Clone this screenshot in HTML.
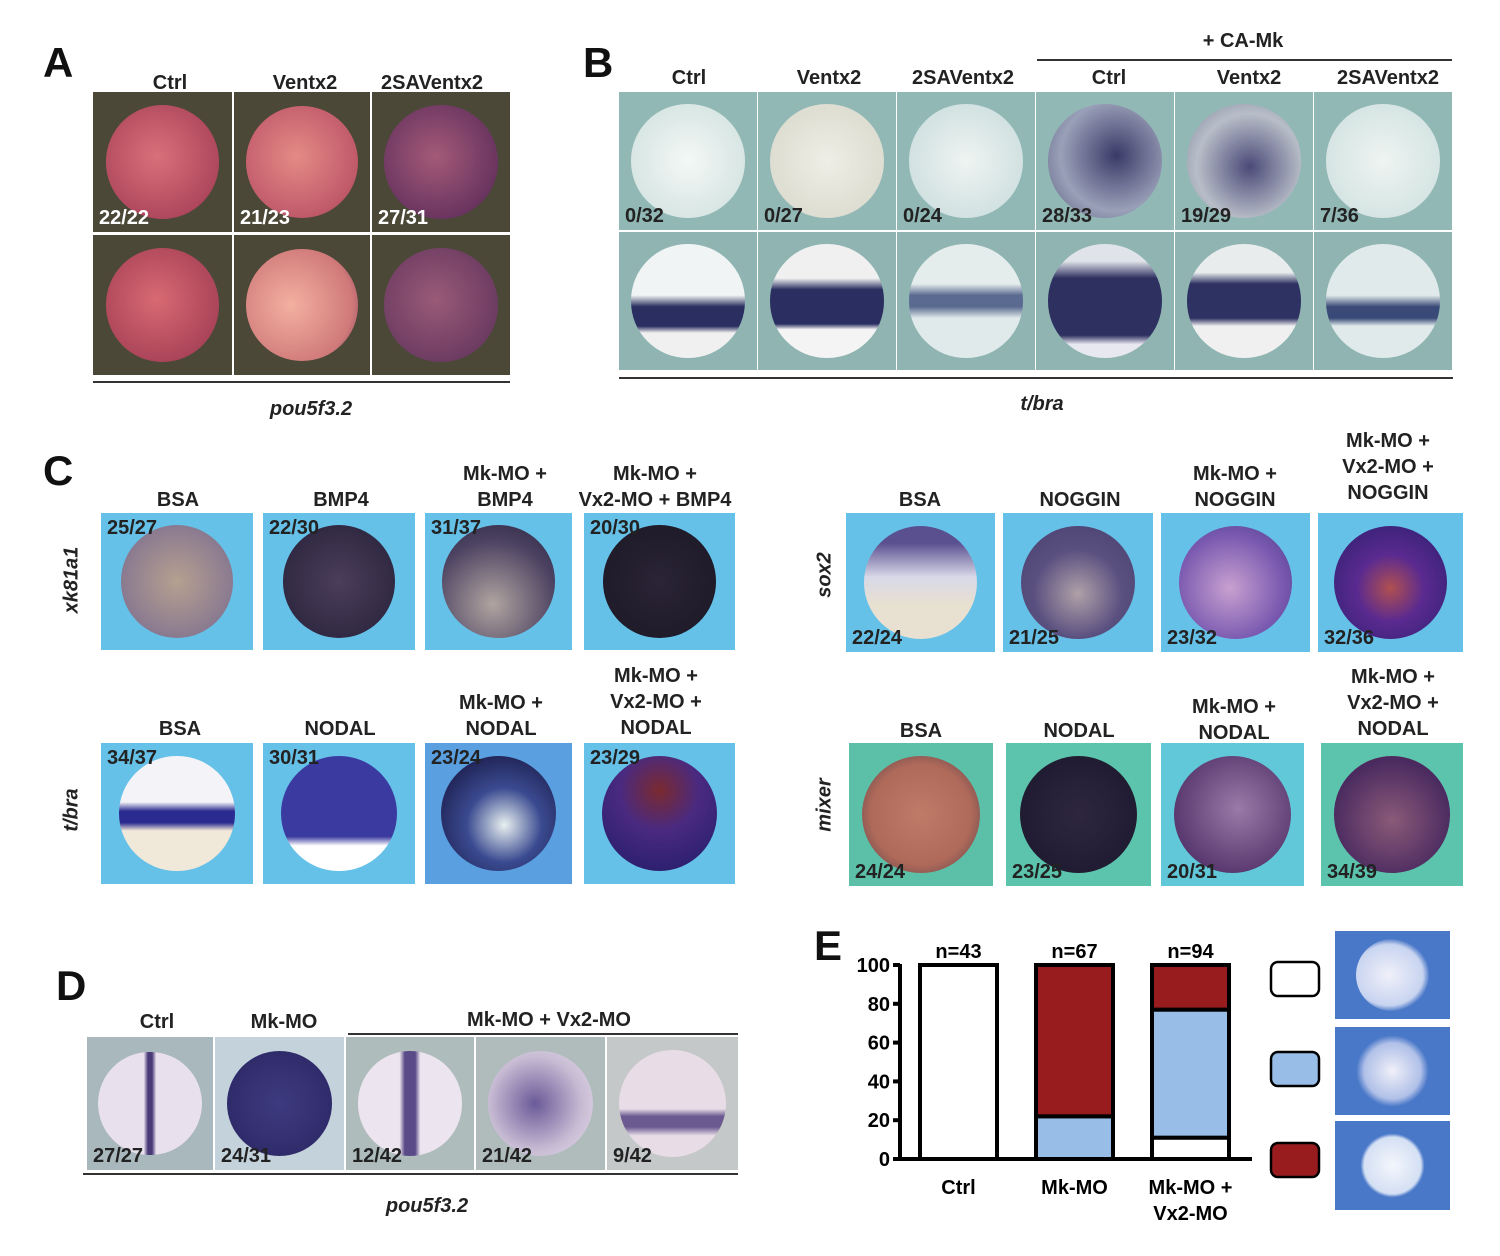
<!DOCTYPE html>
<html><head><meta charset="utf-8"><style>
body{margin:0;width:1500px;height:1256px;background:#fff;position:relative;overflow:hidden;font-family:"Liberation Sans",Arial,sans-serif}
.t{position:absolute;font-weight:bold;font-size:20px;color:#222;text-align:center;line-height:26px;white-space:nowrap;transform:translateX(-50%)}
.L{position:absolute;font-weight:bold;font-size:42px;color:#111;line-height:42px}
.it{position:absolute;font-style:italic;font-weight:bold;font-size:20px;color:#222;transform:translateX(-50%)}
.vl{position:absolute;font-style:italic;font-weight:bold;font-size:20px;color:#222;transform:translate(-50%,-50%) rotate(-90deg)}
.hl{position:absolute;height:1.5px;background:#333}
.cell{position:absolute;overflow:hidden}
.emb{position:absolute;border-radius:50%}
.cnt{position:absolute;font-weight:bold;font-size:20px;line-height:20px}
</style></head><body>
<div class="L" style="left:43px;top:42px">A</div>
<div class="t" style="left:170px;top:70px">Ctrl</div>
<div class="t" style="left:305px;top:70px">Ventx2</div>
<div class="t" style="left:432px;top:70px">2SAVentx2</div>
<div class="hl" style="left:93px;top:381px;width:417px"></div>
<div class="it" style="left:311px;top:398px">pou5f3.2</div>

<div class="L" style="left:583px;top:42px">B</div>
<div class="t" style="left:1243px;top:28px">+ CA-Mk</div>
<div class="hl" style="left:1037px;top:59px;width:415px"></div>
<div class="t" style="left:689px;top:65px">Ctrl</div>
<div class="t" style="left:829px;top:65px">Ventx2</div>
<div class="t" style="left:963px;top:65px">2SAVentx2</div>
<div class="t" style="left:1109px;top:65px">Ctrl</div>
<div class="t" style="left:1249px;top:65px">Ventx2</div>
<div class="t" style="left:1388px;top:65px">2SAVentx2</div>
<div class="hl" style="left:619px;top:377px;width:834px"></div>
<div class="it" style="left:1042px;top:393px">t/bra</div>

<div class="L" style="left:43px;top:450px">C</div>
<div class="t" style="left:178px;top:487px">BSA</div>
<div class="t" style="left:341px;top:487px">BMP4</div>
<div class="t" style="left:505px;top:461px">Mk-MO +<br>BMP4</div>
<div class="t" style="left:655px;top:461px">Mk-MO +<br>Vx2-MO + BMP4</div>
<div class="vl" style="left:72px;top:580px">xk81a1</div>
<div class="t" style="left:180px;top:716px">BSA</div>
<div class="t" style="left:340px;top:716px">NODAL</div>
<div class="t" style="left:501px;top:690px">Mk-MO +<br>NODAL</div>
<div class="t" style="left:656px;top:663px">Mk-MO +<br>Vx2-MO +<br>NODAL</div>
<div class="vl" style="left:72px;top:810px">t/bra</div>
<div class="t" style="left:920px;top:487px">BSA</div>
<div class="t" style="left:1080px;top:487px">NOGGIN</div>
<div class="t" style="left:1235px;top:461px">Mk-MO +<br>NOGGIN</div>
<div class="t" style="left:1388px;top:428px">Mk-MO +<br>Vx2-MO +<br>NOGGIN</div>
<div class="vl" style="left:825px;top:575px">sox2</div>
<div class="t" style="left:921px;top:718px">BSA</div>
<div class="t" style="left:1079px;top:718px">NODAL</div>
<div class="t" style="left:1234px;top:694px">Mk-MO +<br>NODAL</div>
<div class="t" style="left:1393px;top:664px">Mk-MO +<br>Vx2-MO +<br>NODAL</div>
<div class="vl" style="left:825px;top:805px">mixer</div>

<div class="L" style="left:56px;top:965px">D</div>
<div class="t" style="left:157px;top:1009px">Ctrl</div>
<div class="t" style="left:284px;top:1009px">Mk-MO</div>
<div class="t" style="left:549px;top:1007px">Mk-MO + Vx2-MO</div>
<div class="hl" style="left:348px;top:1033px;width:390px"></div>
<div class="hl" style="left:83px;top:1173px;width:655px"></div>
<div class="it" style="left:427px;top:1195px">pou5f3.2</div>

<div class="L" style="left:814px;top:925px">E</div>
<svg id="chart" style="position:absolute;left:0;top:0" width="1500" height="1256"></svg>

<script>
const categories=["Ctrl","Mk-MO","Mk-MO +|Vx2-MO"];
const nLabels=["n=43","n=67","n=94"];
const whiteVals=[100,0,11];
const blueVals=[0,22,66];
const redVals=[0,78,23];
const yTicks=[0,20,40,60,80,100];
const NS="http://www.w3.org/2000/svg";
const svg=document.getElementById('chart');
const y0=1159,y1=965;
function ys(v){return y0-(y1-y0)*-v/100;}
function yv(v){return y0+(y1-y0)*v/100;}
function xs(i){return 920+i*116;}
const bw=77;
function el(tag,attrs){const e=document.createElementNS(NS,tag);for(const k in attrs)e.setAttribute(k,attrs[k]);svg.appendChild(e);return e;}
categories.forEach((c,i)=>{
  let acc=0;
  [[whiteVals,'#ffffff','white'],[blueVals,'#98bde6','blue'],[redVals,'#981c1e','red']].forEach(s=>{
    const v=s[0][i];
    if(v>0){
      const r=el('rect',{x:xs(i),y:yv(acc+v),width:bw,height:yv(acc)-yv(acc+v),fill:s[1],stroke:'#000','stroke-width':4});
      
      
    }
    acc+=v;
  });
  const n=el('text',{x:xs(i)+bw/2,y:958,'text-anchor':'middle','font-size':20,'font-weight':'bold','font-family':'Liberation Sans'});
  n.textContent=nLabels[i];
  
  
  c.split('|').forEach((ln,j)=>{
    const t=el('text',{x:xs(i)+bw/2+(j>0?0:0),y:1194+j*26,'text-anchor':'middle','font-size':20,'font-weight':'bold','font-family':'Liberation Sans'});
    t.textContent=ln;
    
    
  });
});
const ax=el('line',{x1:900,y1:y1-1,x2:900,y2:y0,stroke:'#000','stroke-width':4});


const bx=el('line',{x1:898,y1:y0,x2:1252,y2:y0,stroke:'#000','stroke-width':4});


yTicks.forEach(v=>{
  el('line',{x1:893,y1:yv(v),x2:900,y2:yv(v),stroke:'#000','stroke-width':4});
  const t=el('text',{x:890,y:yv(v)+7,'text-anchor':'end','font-size':20,'font-weight':'bold','font-family':'Liberation Sans'});
  t.textContent=v;
  
  
});
// legend boxes
[['#ffffff',962],['#98bde6',1052],['#981c1e',1143]].forEach((b,i)=>{
  const r=el('rect',{x:1271,y:b[1],width:48,height:34,rx:7,fill:b[0],stroke:'#000','stroke-width':2.5});
  
  
});

function cell(x,y,w,h,bg,emb,count,cc,cpos,name){
  const d=document.createElement('div');
  d.className='cell';
  d.style.cssText=`left:${x}px;top:${y}px;width:${w}px;height:${h}px;background:${bg}`;
  
  
  const s=Math.min(w,h)*0.82;
  const e=document.createElement('div');
  e.className='emb';
  e.style.cssText=`left:${(w-s)/2}px;top:${(h-s)/2}px;width:${s}px;height:${s}px;background:${emb}`;
  
  
  d.appendChild(e);
  if(count){
    const c=document.createElement('div');
    c.className='cnt';
    c.textContent=count;
    c.style.color=cc;
    c.style.left='6px';
    if(cpos==='top')c.style.top='5px';else c.style.bottom='4px';
    
    
    d.appendChild(c);
  }
  document.body.appendChild(d);
}
// Panel A
const aBg='#4b4838';
const aCols=[[93,139],[234,136],[372,138]];
const aTop=['radial-gradient(circle at 45% 45%,#d8707a,#b0485e 70%,#7a3048)','radial-gradient(circle at 45% 45%,#e58a86,#c05a6a 70%,#7a3048)','radial-gradient(circle at 45% 45%,#a45a78,#6a3560 70%,#4a2848)'];
const aBot=['radial-gradient(circle at 45% 45%,#d86a72,#a84258 75%,#5a2a48)','radial-gradient(circle at 40% 50%,#f3b0a0,#d07a7a 70%,#7a3a58)','radial-gradient(circle at 45% 45%,#9a5a78,#6a3a60 75%,#3a2840)'];
const aCnt=['22/22','21/23','27/31'];
aCols.forEach((c,i)=>{
  cell(c[0],92,c[1],140,aBg,aTop[i],aCnt[i],'#fff','bot','a-top-'+i);
  cell(c[0],235,c[1],140,aBg,aBot[i],'', '', '', 'a-bot-'+i);
});
// Panel B
const bCnt=['0/32','0/27','0/24','28/33','19/29','7/36'];
const bTop=['radial-gradient(circle,#f4f8f6,#d8e6e4 70%,#b0c8c8)','radial-gradient(circle,#eeeee6,#dcdcd0 75%,#b8c0c0)','radial-gradient(circle,#eef4f2,#d0e0e0 75%,#a8c0c4)','radial-gradient(circle at 60% 45%,#3a3a68,#9aa0b8 60%,#5a6080)','radial-gradient(circle at 55% 55%,#4a4a78,#b8bec8 60%,#7a8098)','radial-gradient(circle,#eef4f2,#d4e4e2 75%,#b8cccc)'];
const bBot=['linear-gradient(#f0f4f4 0 45%,#2a2e60 55% 72%,#f0f0f0 78%)','linear-gradient(#f0f0f0 0 30%,#2a2e60 40% 70%,#f4f4f4 75%)','linear-gradient(#e4ecec 0 35%,#5a6a90 45% 55%,#e0eaea 65%)','linear-gradient(#e0e4ea 0 15%,#2e3060 30% 80%,#e8e8f0 88%)','linear-gradient(#e8ecec 0 25%,#2e3262 35% 65%,#f0f0f0 72%)','linear-gradient(#e0eaea 0 45%,#3a4a78 55% 65%,#e0eaea 72%)'];
for(let i=0;i<6;i++){
  const x=619+i*139;
  cell(x,92,138,138,'#92b8b6',bTop[i],bCnt[i],'#222','bot','b-top-'+i);
  cell(x,232,138,138,'#8fb4b2',bBot[i],'','','','b-bot-'+i);
}
// Panel C
const lb='#66c1e8';
const c1x=[[101,152],[263,152],[425,147],[584,151]];
const c1E=['radial-gradient(circle,#b6a090,#8a7a90 70%,#6a5a78)','radial-gradient(circle,#4a3e5a,#2e2640 80%)','radial-gradient(circle at 45% 70%,#b0a4a0,#4a4060 65%,#2e2640)','radial-gradient(circle,#2a2436,#1e1a28 80%)'];
const c1C=['25/27','22/30','31/37','20/30'];
c1x.forEach((c,i)=>cell(c[0],513,c[1],137,lb,c1E[i],c1C[i],'#222','top','c-xk81a1-'+i));
const c2E=['linear-gradient(#f4f4f8 0 40%,#2a2a90 48% 58%,#f0e8d8 65%)','linear-gradient(#3a3aa0 0 70%,#fff 78%)','radial-gradient(circle at 55% 60%,#e8f0f0,#3a4a90 40%,#1e2050 80%)','radial-gradient(circle at 50% 30%,#7a2a30,#4a2a80 40%,#2e2070 80%)'];
const c2C=['34/37','30/31','23/24','23/29'];
const c2bg=[lb,lb,'#5a9fe0',lb];
c1x.forEach((c,i)=>cell(c[0],743,c[1],141,c2bg[i],c2E[i],c2C[i],'#222','top','c-tbra-'+i));
const c3x=[[846,149],[1003,150],[1161,149],[1318,145]];
const c3E=['linear-gradient(#5a5090 0 15%,#d8d8e8 45%,#e8e0d0 70%)','radial-gradient(circle at 50% 60%,#b0a0a8,#5a5080 50%,#4a4070)','radial-gradient(circle at 45% 55%,#c8a0d0,#7a5ab0 60%,#4a3a88)','radial-gradient(circle at 50% 55%,#b05050,#5a2a90 40%,#3a2278 80%)'];
const c3C=['22/24','21/25','23/32','32/36'];
c3x.forEach((c,i)=>cell(c[0],513,c[1],139,lb,c3E[i],c3C[i],'#222','bot','c-sox2-'+i));
const c4x=[[849,144,'#5cc0a8'],[1006,145,'#5cc4ac'],[1161,143,'#60c8d8'],[1321,142,'#5cc4ac']];
const c4E=['radial-gradient(circle,#c07a68,#b06a5a 60%,#4a3a48)','radial-gradient(circle,#2e2640,#1e1a30 80%)','radial-gradient(circle at 55% 45%,#9a7aa8,#5a3a70 70%,#3a2040)','radial-gradient(circle at 50% 55%,#8a5a78,#4a2a60 70%,#6a2a40)'];
const c4C=['24/24','23/25','20/31','34/39'];
c4x.forEach((c,i)=>cell(c[0],743,c[1],143,c[2],c4E[i],c4C[i],'#222','bot','c-mixer-'+i));
// Panel D
const dx=[[87,126,'#a8b8bc'],[215,129,'#c4d2dc'],[346,128,'#aebcbc'],[476,129,'#b0bcbc'],[607,131,'#c4c8c8']];
const dE=['linear-gradient(90deg,#e8e0ec 0 44%,#4a3a78 48% 52%,#e8e0ec 56%)','radial-gradient(circle,#3e3a80,#2e2a68 80%)','linear-gradient(90deg,#ece4ee 0 40%,#5a4a88 45% 55%,#ece4ee 60%)','radial-gradient(circle at 45% 50%,#6a5a98,#c8bcd4 60%,#e4dce8)','linear-gradient(#e8dce6 0 55%,#6a5a90 62% 72%,#e8dce6 80%)'];
const dC=['27/27','24/31','12/42','21/42','9/42'];
dx.forEach((c,i)=>cell(c[0],1037,c[1],133,c[2],dE[i],dC[i],'#222','bot','d-'+i));
// Panel E images
const eE=['radial-gradient(ellipse at 45% 50%,#f0f0fa,#c8d4f0 60%,#4a78c8 72%)','radial-gradient(ellipse at 50% 50%,#f0f0f8,#b0c0e8 55%,#4a78c8 70%)','radial-gradient(circle,#f4f6fc,#d4e0f4 55%,#4a78c8 62%)'];
[[931,88],[1027,88],[1121,89]].forEach((r,i)=>cell(1335,r[0],115,r[1],'#4a78c8',eE[i],'','','','e-image-'+i));
</script>
</body></html>
